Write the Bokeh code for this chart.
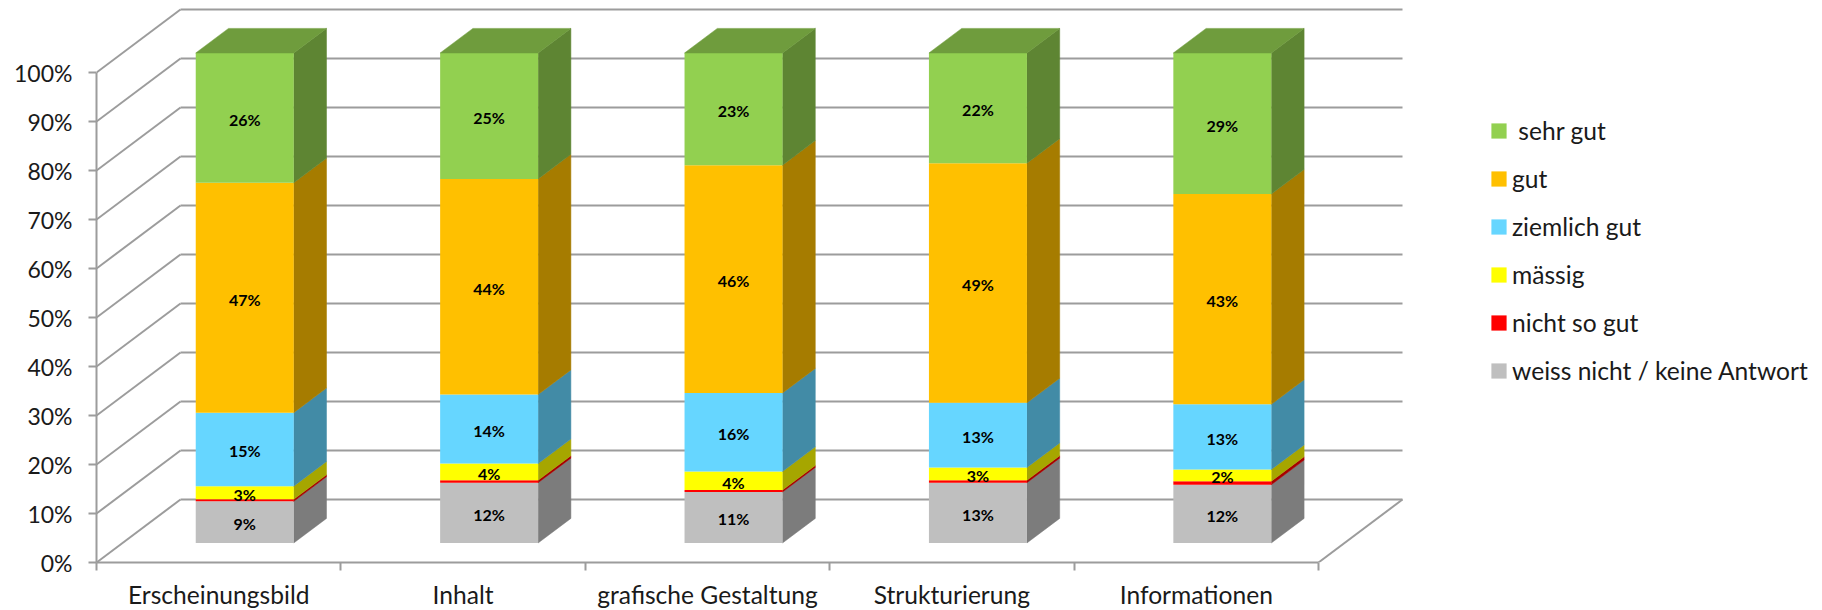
from bokeh.plotting import figure
from bokeh.models import Range1d, FixedTicker, Legend, LegendItem, ColumnDataSource
from bokeh.core.properties import value
from bokeh.embed import file_html
from bokeh.resources import INLINE

categories = ["Erscheinungsbild", "Inhalt", "grafische Gestaltung", "Strukturierung", "Informationen"]
series_names = ["weiss nicht / keine Antwort", "nicht so gut", "mässig", "ziemlich gut", "gut", " sehr gut"]
weiss = [8.5, 12.3, 10.4, 12.3, 11.9]
nicht = [0.4, 0.5, 0.4, 0.5, 0.7]
maessig = [2.7, 3.4, 3.8, 2.6, 2.4]
ziemlich = [15.0, 14.1, 16.0, 13.2, 13.3]
gut = [46.9, 44.0, 46.5, 48.9, 42.9]
sehr = [26.5, 25.7, 22.9, 22.5, 28.8]
label_weiss = ["9%", "12%", "11%", "13%", "12%"]
label_maessig = ["3%", "4%", "4%", "3%", "2%"]
label_ziemlich = ["15%", "14%", "16%", "13%", "13%"]
label_gut = ["47%", "44%", "46%", "49%", "43%"]
label_sehr = ["26%", "25%", "23%", "22%", "29%"]
y_ticks = [0, 10, 20, 30, 40, 50, 60, 70, 80, 90, 100]

series = [weiss, nicht, maessig, ziemlich, gut, sehr]
labels = [label_weiss, None, label_maessig, label_ziemlich, label_gut, label_sehr]
front = ["#BFBFBF", "#FF0000", "#FFFF00", "#66D6FF", "#FFC000", "#92D050"]
side = ["#7C7C7C", "#A60000", "#A6A600", "#428BA6", "#A67C00", "#5E8533"]
top_color = "#6F9C3D"

FONT = "Lato"
GRID = "#9C9C9C"
PX_X, PX_Y = 244.4, 4.9
DX, DY = 84 / PX_X, 63 / PX_Y          # depth vector of the floor, in data units
BAR_W = 98 / PX_X
OFF_X, OFF_Y = 0.31 * DX, 0.31 * DY    # bars stand a little into the floor
DEP_X, DEP_Y = 0.39 * DX, 0.39 * DY    # depth of a bar

FRAME_W, FRAME_H = 1722, 562
p = figure(width=1818, height=594, frame_width=FRAME_W, frame_height=FRAME_H,
           x_range=Range1d(0, FRAME_W / PX_X), y_range=Range1d(0, FRAME_H / PX_Y),
           output_backend="svg", toolbar_location=None,
           min_border_left=96, min_border_right=0, min_border_top=0, min_border_bottom=32,
           background_fill_color=None, border_fill_color="white", outline_line_color=None)
p.grid.visible = False

# walls and floor
x0 = [0.0 for _ in y_ticks] + [DX for _ in y_ticks] + [5.0]
x1 = [DX for _ in y_ticks] + [5 + DX for _ in y_ticks] + [5 + DX]
y0 = [float(v) for v in y_ticks] + [v + DY for v in y_ticks] + [0.0]
y1 = [v + DY for v in y_ticks] + [v + DY for v in y_ticks] + [DY]
p.segment(x0, y0, x1, y1, line_color=GRID, line_width=2)

# bars
centers = [i + 0.5 + OFF_X for i in range(5)]
bottom = [OFF_Y] * 5
items = []
tops = [OFF_Y] * 5
for s, vals in enumerate(series):
    tops = [b + v for b, v in zip(bottom, vals)]
    xs, ys = [], []
    for c, b, t in zip(centers, bottom, tops):
        r = c + BAR_W / 2
        xs.append([r, r + DEP_X, r + DEP_X, r])
        ys.append([b, b + DEP_Y, t + DEP_Y, t])
    p.patches(xs, ys, fill_color=side[s], line_color=side[s], line_width=0.5)
    bar = p.vbar(x=centers, bottom=bottom, top=tops, width=BAR_W,
                 fill_color=front[s], line_color=None)
    items.append(LegendItem(label=series_names[s], renderers=[bar]))
    if labels[s]:
        src = ColumnDataSource(dict(x=centers, y=[(b + t) / 2 - 0.3 for b, t in zip(bottom, tops)], t=labels[s]))
        p.text("x", "y", text="t", source=src, text_font=value(FONT), text_font_style="bold",
               text_font_size="16px", text_color="black", text_align="center", text_baseline="middle",
               level="overlay")
    bottom = tops

# top faces
txs, tys = [], []
for c, t in zip(centers, tops):
    l, r = c - BAR_W / 2, c + BAR_W / 2
    txs.append([l, r, r + DEP_X, l + DEP_X])
    tys.append([t, t, t + DEP_Y, t + DEP_Y])
p.patches(txs, tys, fill_color=top_color, line_color=top_color, line_width=0.5)

# axes
ax = p.yaxis[0]
ax.ticker = FixedTicker(ticks=y_ticks)
ax.major_label_overrides = {v: f"{v}%" for v in y_ticks}
ax.bounds = (0, 100)
ax.axis_line_color = GRID
ax.axis_line_width = 2
ax.major_tick_line_color = GRID
ax.major_tick_line_width = 2
ax.major_tick_in = 0
ax.major_tick_out = 8
ax.minor_tick_line_color = None
ax.major_label_standoff = 16
ax.major_label_text_font = FONT
ax.major_label_text_font_size = "23px"
ax.major_label_text_color = "#1a1a1a"

bx = p.xaxis[0]
bx.ticker = FixedTicker(ticks=[i + 0.5 for i in range(5)], minor_ticks=list(range(6)))
bx.major_label_overrides = {i + 0.5: c for i, c in enumerate(categories)}
bx.bounds = (0, 5)
bx.axis_line_color = GRID
bx.axis_line_width = 2
bx.major_tick_line_color = None
bx.major_tick_in = 0
bx.major_tick_out = 0
bx.minor_tick_line_color = GRID
bx.minor_tick_line_width = 2
bx.minor_tick_in = 0
bx.minor_tick_out = 8
bx.major_label_standoff = 9
bx.major_label_text_font = FONT
bx.major_label_text_font_size = "24.6px"
bx.major_label_text_color = "#1a1a1a"

legend = Legend(items=list(reversed(items)), location=(1393, 177), orientation="vertical",
                background_fill_color=None, border_line_color=None, padding=0, margin=0,
                spacing=19, glyph_width=19, glyph_height=19, label_standoff=4,
                label_text_font=FONT, label_text_font_size="24.6px", label_text_color="#1a1a1a")
p.add_layout(legend, "center")

open("out.html", "w").write(file_html(p, INLINE))
